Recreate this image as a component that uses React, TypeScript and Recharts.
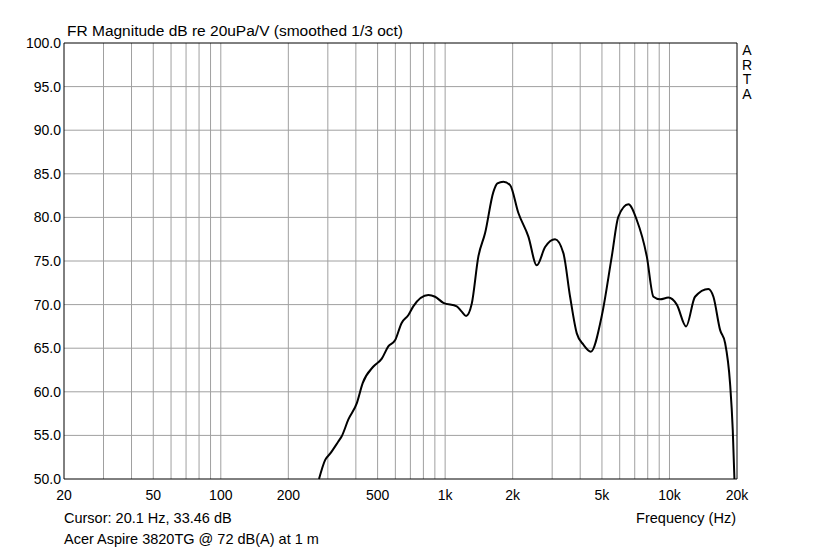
import { LineChart, Line, XAxis, YAxis, ReferenceLine } from "recharts";

// values (smoothed 1/3 oct)
const freqHz = [
  274, 292, 307, 334, 346, 370, 404, 429, 479, 522, 558, 598, 640, 686, 721,
  842, 902, 982, 1127, 1186, 1240, 1314, 1406, 1507, 1640, 1710, 1818, 1948,
  2121, 2350, 2561, 2790, 3090, 3366, 3606, 3862, 4134, 4458, 5000, 5530,
  5920, 6560, 7149, 7926, 8486, 9085, 9890, 10780, 11860, 13000, 14910,
  15700, 16810, 17700, 18620, 19150, 19480,
];
const magnitudeDb = [
  50.0, 52.2, 52.9, 54.3, 54.9, 56.8, 58.7, 61.0, 62.9, 63.8, 65.2, 65.9,
  67.9, 68.8, 69.8, 71.1, 70.9, 70.2, 69.8, 69.2, 68.7, 70.1, 75.5, 78.2,
  82.9, 83.9, 84.1, 83.7, 80.5, 77.8, 74.5, 76.6, 77.5, 75.9, 70.9, 66.7,
  65.4, 64.6, 68.8, 75.5, 80.1, 81.5, 79.7, 75.5, 70.9, 70.6, 70.8, 70.0,
  67.5, 70.9, 71.8, 70.9, 67.1, 65.6, 61.0, 55.6, 50.0,
];

const freqTicks = [20, 50, 100, 200, 500, 1000, 2000, 5000, 10000, 20000];
const dbTicks = [50, 55, 60, 65, 70, 75, 80, 85, 90, 95, 100];

const gridFreqs: number[] = [];
for (const decade of [10, 100, 1000, 10000]) {
  for (let m = 1; m <= 9; m++) {
    const f = m * decade;
    if (f > 20 && f < 20000) gridFreqs.push(f);
  }
}

const data = freqHz.map((f, i) => ({ f, db: magnitudeDb[i] }));

const FONT = '"Liberation Sans", Arial, sans-serif';
const GRID = "#a0a0a0";

const fmtFreq = (v: number) => (v >= 1000 ? `${v / 1000}k` : `${v}`);

function FreqTick({ x, y, payload }: any) {
  return (
    <text x={x} y={y + 21} textAnchor="middle" fontSize={14} fontFamily={FONT} fill="#000">
      {fmtFreq(payload.value)}
    </text>
  );
}

function DbTick({ x, y, payload }: any) {
  return (
    <text x={x} y={y + 5} textAnchor="end" fontSize={14} fontFamily={FONT} fill="#000">
      {Number(payload.value).toFixed(1)}
    </text>
  );
}

export default function App() {
  return (
    <div style={{ position: "absolute", left: 0, top: 0, width: 819, height: 551, background: "#fff" }}>
      <LineChart
        width={819}
        height={551}
        data={data}
        margin={{ top: 43, right: 82, bottom: 0, left: 0 }}
      >
        {gridFreqs.map((f) => (
          <ReferenceLine key={`gx${f}`} x={f} stroke={GRID} strokeWidth={1} />
        ))}
        {dbTicks.slice(1, -1).map((d) => (
          <ReferenceLine key={`gy${d}`} y={d} stroke={GRID} strokeWidth={1} />
        ))}
        <XAxis
          dataKey="f"
          type="number"
          scale="log"
          domain={[20, 20000]}
          ticks={freqTicks}
          interval={0}
          height={72}
          tickSize={0}
          tickMargin={0}
          tickLine={false}
          axisLine={{ stroke: "#000" }}
          tick={<FreqTick />}
        />
        <YAxis
          type="number"
          domain={[50, 100]}
          ticks={dbTicks}
          interval={0}
          width={64}
          tickSize={0}
          tickMargin={3}
          tickLine={false}
          axisLine={{ stroke: "#000" }}
          tick={<DbTick />}
        />
        <ReferenceLine y={100} stroke="#000" />
        <ReferenceLine x={20000} stroke="#000" />
        <Line
          dataKey="db"
          type="monotone"
          stroke="#000"
          strokeWidth={2}
          dot={false}
          isAnimationActive={false}
        />
      </LineChart>
      <svg
        width={819}
        height={551}
        style={{ position: "absolute", left: 0, top: 0, pointerEvents: "none" }}
        fontFamily={FONT}
        fill="#000"
      >
        <text x={67} y={36} fontSize={15.5}>
          FR Magnitude dB re 20uPa/V (smoothed 1/3 oct)
        </text>
        <text x={747} y={55} fontSize={14} textAnchor="middle">A</text>
        <text x={747} y={69.5} fontSize={14} textAnchor="middle">R</text>
        <text x={747} y={84} fontSize={14} textAnchor="middle">T</text>
        <text x={747} y={98.5} fontSize={14} textAnchor="middle">A</text>
        <text x={64} y={523} fontSize={14.5}>Cursor: 20.1 Hz, 33.46 dB</text>
        <text x={736} y={523} fontSize={14.5} textAnchor="end">Frequency (Hz)</text>
        <text x={64} y={544} fontSize={14.5}>Acer Aspire 3820TG @ 72 dB(A) at 1 m</text>
      </svg>
    </div>
  );
}
